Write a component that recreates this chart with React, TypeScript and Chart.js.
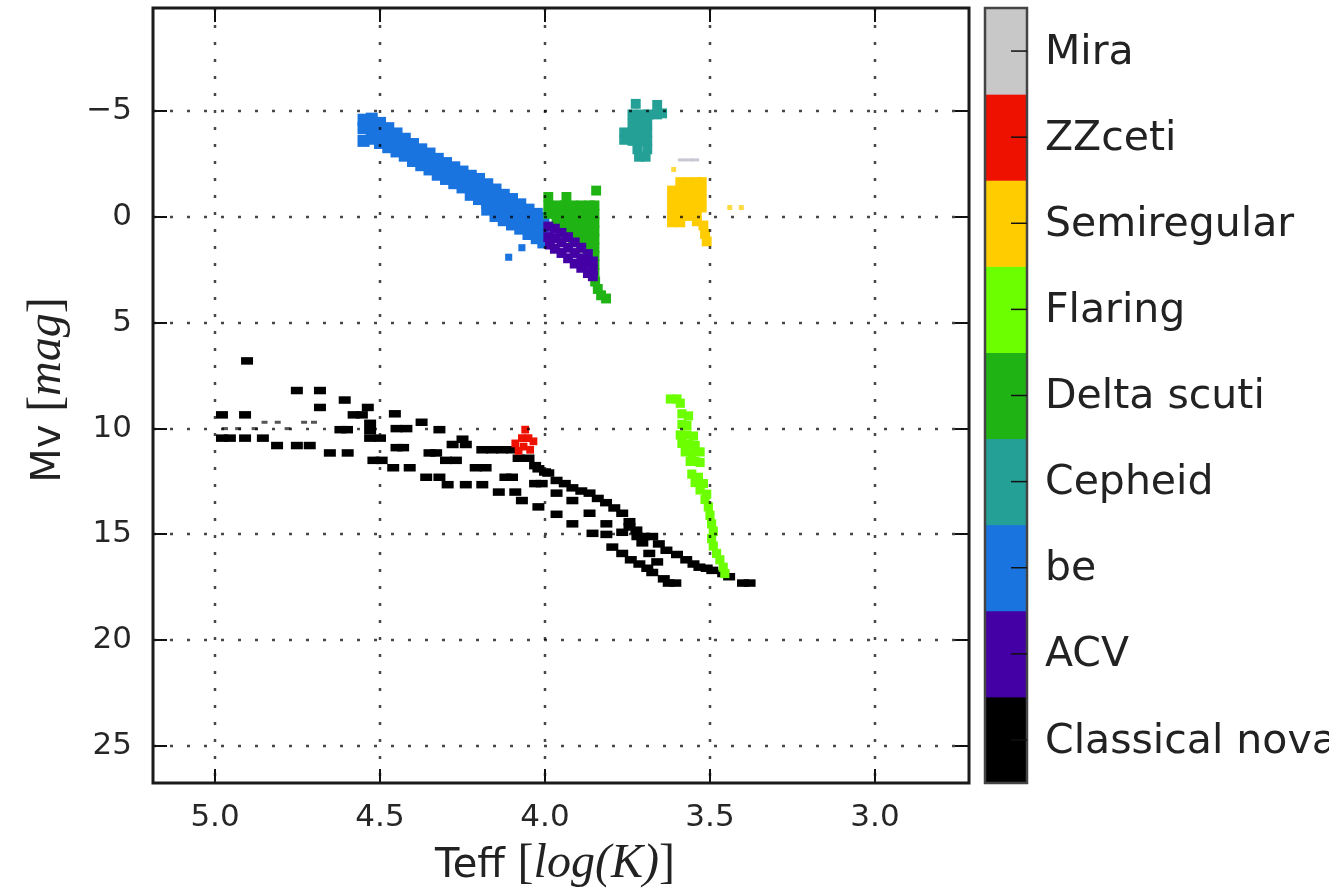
import React, { useEffect, useRef } from 'react';
import { Chart, registerables } from 'chart.js';

Chart.register(...registerables);

// ---------- data ----------
const xTicks = [5.0, 4.5, 4.0, 3.5, 3.0];
const yTicks = [-5, 0, 5, 10, 15, 20, 25];
const xRange = [2.715, 5.188];
const yRange = [-9.88, 26.75];

// colour-bar classes, bottom to top
const classLabels = ['Classical nova', 'ACV', 'be', 'Cepheid', 'Delta scuti', 'Flaring', 'Semiregular', 'ZZceti', 'Mira'];

type P = [number, number];

const classicalNova: P[] = [
  [4.903, 6.8],
  [4.752, 8.2], [4.682, 8.2], [4.607, 8.65], [4.682, 9.0],
  [4.979, 9.35], [4.909, 9.35], [4.58, 9.35], [4.555, 9.35], [4.537, 9.0], [4.455, 9.3], [4.374, 9.7],
  [4.62, 10.05], [4.6, 10.05], [4.53, 9.75], [4.53, 10.1], [4.45, 10.0], [4.42, 10.0], [4.32, 10.05],
  [4.25, 10.5], [4.28, 10.75], [4.24, 10.75],
  [4.19, 11.0], [4.16, 11.0], [4.13, 11.0], [4.1, 11.0], [4.08, 11.4], [4.05, 11.4],
  [4.53, 10.45], [4.5, 10.45], [4.45, 10.9], [4.43, 10.9],
  [4.979, 10.45], [4.955, 10.45], [4.909, 10.45], [4.855, 10.45],
  [4.812, 10.8], [4.752, 10.8], [4.713, 10.8],
  [4.652, 11.15], [4.598, 11.15],
  [4.52, 11.5], [4.495, 11.5],
  [4.46, 11.85], [4.41, 11.85],
  [4.36, 12.3], [4.32, 12.3],
  [4.295, 12.65], [4.24, 12.65], [4.19, 12.65],
  [4.35, 11.15], [4.33, 11.15],
  [4.3, 11.5], [4.27, 11.5],
  [4.21, 11.85], [4.18, 11.85],
  [4.12, 12.3], [4.1, 12.3],
  [4.14, 13.0], [4.09, 13.0],
  [4.07, 13.4], [4.02, 13.7],
  [3.965, 14.05], [3.917, 14.5], [3.856, 14.95],
  [4.03, 12.6], [4.01, 12.6],
  [4.03, 11.75], [4.02, 11.9], [4.0, 12.05],
  [3.99, 12.1], [3.965, 12.45], [3.94, 12.6], [3.917, 12.8], [3.89, 12.95], [3.865, 13.05], [3.84, 13.3],
  [3.815, 13.5], [3.79, 13.75], [3.766, 14.0], [3.744, 14.4], [3.723, 14.8], [3.7, 15.1], [3.675, 15.1],
  [3.655, 15.45], [3.632, 15.75], [3.6, 15.95], [3.572, 16.2], [3.55, 16.4], [3.532, 16.55], [3.51, 16.6],
  [3.493, 16.7], [3.46, 16.85], [3.442, 17.0], [3.4, 17.3], [3.38, 17.3],
  [3.965, 13.05], [3.917, 13.4], [3.865, 14.0], [3.814, 14.5], [3.766, 14.9], [3.744, 14.65], [3.72, 15.1],
  [3.705, 15.4], [3.684, 15.9], [3.66, 16.3],
  [3.814, 15.0], [3.796, 15.6], [3.766, 15.9], [3.74, 16.2], [3.714, 16.4], [3.69, 16.6], [3.675, 16.8],
  [3.64, 17.1], [3.625, 17.3], [3.605, 17.3],
];

const classicalNovaFaint: P[] = [
  [4.85, 9.7], [4.81, 9.7], [4.73, 9.7], [4.7, 9.7], [4.97, 10.0], [4.93, 10.0], [4.88, 10.0], [4.78, 10.0],
];

const acv: P[] = [
  [3.99, 0.45], [3.99, 0.95], [3.985, 1.3],
  [3.97, 0.55], [3.97, 1.0], [3.97, 1.5],
  [3.95, 0.75], [3.95, 1.2], [3.95, 1.7],
  [3.93, 0.95], [3.93, 1.45], [3.93, 1.95],
  [3.91, 1.2], [3.91, 1.7], [3.91, 2.2],
  [3.89, 1.45], [3.89, 1.95], [3.89, 2.4],
  [3.87, 1.75], [3.87, 2.2], [3.87, 2.65],
  [3.855, 2.1], [3.855, 2.5], [3.855, 2.8],
];

const be: P[] = [
  [4.55, -4.6], [4.55, -4.2], [4.55, -3.6],
  [4.525, -4.65], [4.525, -4.2], [4.525, -3.7],
  [4.5, -4.45], [4.5, -4.0], [4.5, -3.5],
  [4.475, -4.2], [4.475, -3.75], [4.475, -3.3],
  [4.45, -3.95], [4.45, -3.5], [4.45, -3.1],
  [4.425, -3.7], [4.425, -3.25], [4.425, -2.9],
  [4.4, -3.45], [4.4, -3.05], [4.4, -2.65],
  [4.375, -3.2], [4.375, -2.8], [4.375, -2.45],
  [4.35, -3.0], [4.35, -2.6], [4.35, -2.25],
  [4.325, -2.75], [4.325, -2.3], [4.325, -2.0],
  [4.3, -2.55], [4.3, -2.1], [4.3, -1.8],
  [4.275, -2.35], [4.275, -1.95], [4.275, -1.6],
  [4.25, -2.15], [4.25, -1.75], [4.25, -1.4],
  [4.225, -1.95], [4.225, -1.5], [4.225, -1.05],
  [4.2, -1.8], [4.2, -1.35], [4.2, -0.85],
  [4.175, -1.55], [4.175, -1.1], [4.175, -0.65], [4.175, -0.35],
  [4.15, -1.3], [4.15, -0.85], [4.15, -0.4], [4.15, -0.05],
  [4.125, -1.05], [4.125, -0.65], [4.125, -0.25], [4.125, 0.15],
  [4.1, -0.85], [4.1, -0.45], [4.1, 0.0], [4.1, 0.35],
  [4.075, -0.6], [4.075, -0.2], [4.075, 0.2], [4.075, 0.55],
  [4.05, -0.35], [4.05, 0.05], [4.05, 0.45], [4.05, 0.8],
  [4.025, -0.15], [4.025, 0.3], [4.025, 0.7], [4.025, 1.0],
  [4.005, 0.05], [4.005, 0.5], [4.005, 0.9], [4.005, 1.2],
];

const beSparse: P[] = [[4.11, 1.9], [4.07, 1.45]];

const cepheid: P[] = [
  [3.725, -5.35], [3.66, -5.3],
  [3.735, -4.85], [3.71, -4.85], [3.685, -4.85], [3.66, -4.85], [3.645, -4.9],
  [3.735, -4.4], [3.71, -4.4], [3.69, -4.4],
  [3.76, -4.0], [3.735, -4.0], [3.71, -4.0], [3.69, -4.0],
  [3.76, -3.65], [3.735, -3.6], [3.71, -3.6], [3.69, -3.6],
  [3.72, -3.2], [3.69, -3.2],
  [3.715, -2.85], [3.695, -2.85],
];

const deltaScuti: P[] = [
  [3.99, -0.95], [3.935, -0.95], [3.845, -1.25],
  [3.99, -0.55], [3.965, -0.55], [3.94, -0.55], [3.915, -0.55], [3.89, -0.55], [3.865, -0.55], [3.85, -0.55],
  [3.99, -0.15], [3.965, -0.15], [3.94, -0.15], [3.915, -0.15], [3.89, -0.15], [3.865, -0.15], [3.85, -0.15],
  [3.965, 0.25], [3.94, 0.25], [3.915, 0.25], [3.89, 0.25], [3.865, 0.25], [3.85, 0.25],
  [3.94, 0.65], [3.915, 0.65], [3.89, 0.65], [3.865, 0.65], [3.85, 0.65],
  [3.915, 1.05], [3.89, 1.05], [3.865, 1.05], [3.85, 1.05],
  [3.89, 1.45], [3.865, 1.45], [3.85, 1.45],
  [3.865, 1.85], [3.85, 1.85],
  [3.85, 2.25], [3.85, 2.65], [3.848, 3.05],
  [3.84, 3.4], [3.83, 3.7], [3.815, 3.85],
];

const flaring: P[] = [
  [3.62, 8.6], [3.6, 8.6], [3.59, 8.8],
  [3.585, 9.3], [3.565, 9.4], [3.585, 9.8], [3.57, 9.85],
  [3.59, 10.3], [3.57, 10.3], [3.55, 10.35],
  [3.585, 10.7], [3.565, 10.75], [3.545, 10.8],
  [3.575, 11.1], [3.555, 11.2], [3.53, 11.1],
  [3.56, 11.55], [3.545, 11.55], [3.53, 11.6],
  [3.555, 12.15], [3.535, 12.3], [3.545, 12.55], [3.52, 12.6],
  [3.53, 12.9], [3.51, 13.1], [3.515, 13.35],
  [3.505, 13.7], [3.5, 14.1], [3.495, 14.5], [3.49, 14.85],
  [3.495, 15.2], [3.49, 15.55], [3.48, 15.9], [3.47, 16.2], [3.46, 16.55], [3.455, 16.85],
];

const semiregular: P[] = [
  [3.59, -1.65], [3.565, -1.65], [3.54, -1.65], [3.525, -1.65],
  [3.615, -1.25], [3.59, -1.25], [3.565, -1.25], [3.54, -1.25], [3.525, -1.25],
  [3.615, -0.85], [3.59, -0.85], [3.565, -0.85], [3.54, -0.85], [3.525, -0.85],
  [3.615, -0.45], [3.59, -0.45], [3.565, -0.45], [3.54, -0.45], [3.525, -0.45],
  [3.615, -0.05], [3.59, -0.05], [3.565, -0.05], [3.54, -0.05],
  [3.615, 0.25], [3.59, 0.25], [3.54, 0.2],
  [3.52, 0.4], [3.515, 0.8], [3.51, 1.15],
];

const semiregularSparse: P[] = [[3.61, -2.25], [3.44, -0.45], [3.405, -0.45]];

const zzCeti: P[] = [
  [4.06, 10.05], [4.07, 10.45], [4.05, 10.45], [4.09, 10.7], [4.035, 10.6], [4.065, 10.85], [4.08, 11.05], [4.045, 11.0],
];

const mira: P[] = [[3.585, -2.7], [3.565, -2.7], [3.545, -2.7]];

// ---------- styles ----------
const classColors = ['#000000', '#4400a4', '#1a74e0', '#24a096', '#1fb414', '#6cff00', '#ffcc00', '#ee1100', '#c8c8c8'];

const toXY = (pts: P[]) => pts.map(([x, y]) => ({ x, y }));

function rectSet(label: string, pts: P[], color: string, r: number, order: number) {
  return {
    label,
    data: toXY(pts),
    pointStyle: 'rect',
    pointRadius: r,
    pointHoverRadius: r,
    backgroundColor: color,
    borderColor: color,
    borderWidth: 0,
    order,
  };
}

function dashSet(label: string, pts: P[], color: string, r: number, w: number, order: number) {
  return {
    label,
    data: toXY(pts),
    pointStyle: 'line',
    pointRadius: r,
    pointHoverRadius: r,
    backgroundColor: color,
    borderColor: color,
    borderWidth: w,
    pointBorderWidth: w,
    order,
  };
}

const FONT = '"DejaVu Sans", "Liberation Sans", sans-serif';
const SERIF = '"Liberation Serif", "DejaVu Serif", serif';

const decorPlugin = {
  id: 'decor',
  afterDatasetsDraw(chart: any) {
    const { ctx, chartArea: a, scales } = chart;
    const xs = scales.x;
    const ys = scales.y;
    // dotted grid on top of the points
    ctx.save();
    ctx.beginPath();
    ctx.rect(a.left, a.top, a.right - a.left, a.bottom - a.top);
    ctx.clip();
    ctx.setLineDash([3, 14]);
    ctx.lineWidth = 2.5;
    ctx.strokeStyle = 'rgba(0,0,0,0.72)';
    xTicks.forEach((v) => {
      const px = Math.round(xs.getPixelForValue(v));
      ctx.beginPath();
      ctx.moveTo(px, a.top);
      ctx.lineTo(px, a.bottom);
      ctx.stroke();
    });
    yTicks.forEach((v) => {
      const py = Math.round(ys.getPixelForValue(v));
      ctx.beginPath();
      ctx.moveTo(a.left, py);
      ctx.lineTo(a.right, py);
      ctx.stroke();
    });
    ctx.restore();

    // inward tick marks on all four sides
    ctx.save();
    ctx.strokeStyle = '#111';
    ctx.lineWidth = 2;
    const tl = 14;
    xTicks.forEach((v) => {
      const px = Math.round(xs.getPixelForValue(v));
      ctx.beginPath();
      ctx.moveTo(px, a.bottom);
      ctx.lineTo(px, a.bottom - tl);
      ctx.moveTo(px, a.top);
      ctx.lineTo(px, a.top + tl);
      ctx.stroke();
    });
    yTicks.forEach((v) => {
      const py = Math.round(ys.getPixelForValue(v));
      ctx.beginPath();
      ctx.moveTo(a.left, py);
      ctx.lineTo(a.left + tl, py);
      ctx.moveTo(a.right, py);
      ctx.lineTo(a.right - tl, py);
      ctx.stroke();
    });
    // frame
    ctx.lineWidth = 3;
    ctx.strokeStyle = '#1a1a1a';
    ctx.strokeRect(a.left, a.top, a.right - a.left, a.bottom - a.top);
    ctx.restore();
  },
  afterDraw(chart: any) {
    const { ctx, chartArea: a } = chart;
    // colour bar
    const x0 = 985;
    const x1 = 1027;
    const n = classLabels.length;
    const h = (a.bottom - a.top) / n;
    ctx.save();
    for (let i = 0; i < n; i++) {
      const yb = a.bottom - i * h;
      ctx.fillStyle = classColors[i];
      ctx.fillRect(x0, yb - h, x1 - x0, h + 0.5);
    }
    ctx.lineWidth = 2.5;
    ctx.strokeStyle = '#444';
    ctx.strokeRect(x0, a.top, x1 - x0, a.bottom - a.top);
    ctx.strokeStyle = '#111';
    ctx.lineWidth = 1.5;
    ctx.font = `41px ${FONT}`;
    ctx.fillStyle = '#222';
    ctx.textAlign = 'left';
    ctx.textBaseline = 'middle';
    for (let i = 0; i < n; i++) {
      const yc = a.bottom - (i + 0.5) * h;
      ctx.beginPath();
      ctx.moveTo(x1 - 16, yc);
      ctx.lineTo(x1, yc);
      ctx.stroke();
      ctx.fillText(classLabels[i], 1045, yc + 2);
    }

    const size = 40;
    const msize = 48;
    const drawParts = (ps: { t: string; f: string }[], cx: number, cy: number) => {
      let total = 0;
      ps.forEach((p) => {
        ctx.font = p.f;
        total += ctx.measureText(p.t).width;
      });
      let x = cx - total / 2;
      ps.forEach((p) => {
        ctx.font = p.f;
        ctx.fillText(p.t, x, cy);
        x += ctx.measureText(p.t).width;
      });
    };
    ctx.fillStyle = '#222';
    ctx.textAlign = 'left';
    ctx.textBaseline = 'alphabetic';
    // x axis title: Teff [log(K)]
    drawParts(
      [
        { t: 'Teff ', f: `${size}px ${FONT}` },
        { t: '[', f: `${msize}px ${SERIF}` },
        { t: 'log(K)', f: `italic ${msize}px ${SERIF}` },
        { t: ']', f: `${msize}px ${SERIF}` },
      ],
      555,
      877,
    );

    // y axis title: Mv [mag]
    ctx.save();
    ctx.translate(60, 390);
    ctx.rotate(-Math.PI / 2);
    drawParts(
      [
        { t: 'Mv ', f: `${size}px ${FONT}` },
        { t: '[', f: `${msize}px ${SERIF}` },
        { t: 'mag', f: `italic ${msize}px ${SERIF}` },
        { t: ']', f: `${msize}px ${SERIF}` },
      ],
      0,
      0,
    );
    ctx.restore();
    ctx.restore();
  },
};

export default function App() {
  const ref = useRef<HTMLCanvasElement>(null);
  useEffect(() => {
    if (!ref.current) return;
    const datasets: any[] = [
      rectSet('ZZceti', zzCeti, classColors[7], 5.5, 1),
      rectSet('Flaring', flaring, classColors[5], 6.5, 2),
      rectSet('ACV', acv, classColors[1], 7, 3),
      rectSet('Delta scuti', deltaScuti, classColors[4], 7, 4),
      rectSet('be', be, classColors[2], 8.5, 5),
      rectSet('be ', beSparse, classColors[2], 5, 5),
      rectSet('Cepheid', cepheid, classColors[3], 7, 6),
      rectSet('Semiregular', semiregular, classColors[6], 7, 7),
      rectSet('Semiregular ', semiregularSparse, 'rgba(255,204,0,0.75)', 3.5, 8),
      dashSet('Mira', mira, '#c8c8d4', 4, 3, 9),
      dashSet('Classical nova', classicalNova, classColors[0], 6, 7.5, 10),
      dashSet('Classical nova ', classicalNovaFaint, '#555', 3, 3, 11),
    ];
    const chart = new Chart(ref.current, {
      type: 'scatter',
      data: { datasets },
      options: {
        animation: false,
        responsive: false,
        devicePixelRatio: 1,
        layout: { autoPadding: false, padding: { left: 0, top: 8, right: 360, bottom: 0 } },
        plugins: { legend: { display: false }, tooltip: { enabled: false } },
        events: [],
        scales: {
          x: {
            type: 'linear',
            reverse: true,
            min: xRange[0],
            max: xRange[1],
            grid: { display: false },
            border: { display: false },
            afterBuildTicks: (s: any) => {
              s.ticks = xTicks.map((v) => ({ value: v }));
            },
            afterFit: (s: any) => {
              s.height = 108;
              s.paddingLeft = 0;
              s.paddingRight = 0;
              s.paddingTop = 0;
              s.paddingBottom = 0;
            },
            ticks: {
              autoSkip: false,
              maxRotation: 0,
              padding: 8,
              color: '#262626',
              font: { family: FONT, size: 31 },
              callback: (v: any) => Number(v).toFixed(1),
            },
          },
          y: {
            type: 'linear',
            reverse: true,
            min: yRange[0],
            max: yRange[1],
            grid: { display: false },
            border: { display: false },
            afterBuildTicks: (s: any) => {
              s.ticks = yTicks.map((v) => ({ value: v }));
            },
            afterFit: (s: any) => {
              s.width = 153;
              s.paddingLeft = 0;
              s.paddingRight = 0;
              s.paddingTop = 0;
              s.paddingBottom = 0;
            },
            ticks: {
              autoSkip: false,
              padding: 13,
              color: '#262626',
              font: { family: FONT, size: 31 },
              callback: (v: any) => (Number(v) < 0 ? '\u2212' + Math.abs(Number(v)) : String(v)),
            },
          },
        },
      },
      plugins: [decorPlugin],
    } as any);
    return () => chart.destroy();
  }, []);
  return (
    <div style={{ position: 'fixed', left: 0, top: 0, width: 1329, height: 891, background: '#fff' }}>
      <canvas ref={ref} width={1329} height={891} style={{ display: 'block' }} />
    </div>
  );
}
